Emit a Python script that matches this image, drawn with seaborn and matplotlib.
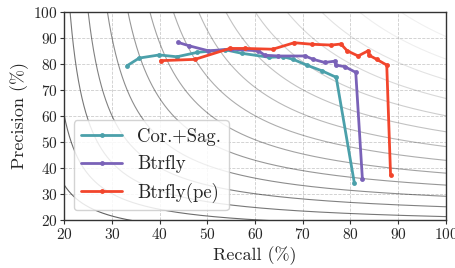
import numpy as np
import pandas as pd
import matplotlib
matplotlib.use("Agg")
import matplotlib.pyplot as plt
import seaborn as sns

# ---- data ----
cor_recall = [33.2, 35.7, 39.9, 43.6, 47.9, 53.7, 57.3, 63.0, 65.9, 68.0, 70.8, 74.0, 77.0, 80.8]
cor_prec   = [79.3, 82.2, 83.4, 82.7, 84.4, 85.4, 84.0, 82.5, 82.7, 81.7, 79.5, 77.3, 74.8, 34.2]

bt_recall = [43.9, 46.2, 50.2, 55.0, 60.7, 62.0, 64.9, 70.5, 72.2, 74.6, 76.7, 76.9, 78.8, 81.1, 82.5]
bt_prec   = [88.2, 86.9, 85.0, 85.6, 85.0, 83.3, 83.0, 83.0, 81.7, 80.5, 81.0, 79.5, 78.9, 76.7, 35.5]

pe_recall = [40.2, 47.4, 54.7, 57.9, 63.7, 68.2, 72.0, 76.0, 78.0, 79.3, 81.6, 83.7, 83.9, 85.5, 87.6, 88.4]
pe_prec   = [81.2, 81.7, 85.9, 85.9, 85.6, 88.1, 87.5, 87.2, 87.6, 85.0, 83.0, 85.0, 83.3, 81.7, 79.5, 37.2]

series_names = ["Cor.+Sag.", "Btrfly", "Btrfly(pe)"]
f_levels = [0.25, 0.30, 0.35, 0.40, 0.45, 0.50, 0.55, 0.60, 0.65, 0.70, 0.75, 0.80, 0.85, 0.90, 0.95]
ticks = [20, 30, 40, 50, 60, 70, 80, 90, 100]

colors = ["#4ba0aa", "#7a62b8", "#f2452c"]

sns.set_style("ticks")
plt.rcParams["font.family"] = ["cmr10", "DejaVu Serif"]
plt.rcParams["mathtext.fontset"] = "cm"
plt.rcParams["axes.unicode_minus"] = False
plt.rcParams["axes.formatter.use_mathtext"] = True

fig = plt.figure(figsize=(4.55, 2.68), dpi=100)
ax = fig.add_axes([0.1413, 0.180, 0.8387, 0.776])

# iso-F1 curves
r = np.linspace(0.0, 1.0, 2000)
for f in f_levels:
    with np.errstate(divide="ignore", invalid="ignore"):
        p = f * r / (2 * r - f)
    m = (p > 0) & (p <= 1.05) & (r > f / 2)
    a = max(0.06, 0.62 - (f - 0.25) * 0.85)
    ax.plot(r[m] * 100, p[m] * 100, color="black", alpha=a, lw=0.8, zorder=1)

df = pd.concat([
    pd.DataFrame({"Recall": cor_recall, "Precision": cor_prec, "Method": series_names[0]}),
    pd.DataFrame({"Recall": bt_recall, "Precision": bt_prec, "Method": series_names[1]}),
    pd.DataFrame({"Recall": pe_recall, "Precision": pe_prec, "Method": series_names[2]}),
], ignore_index=True)

for name, c in zip(series_names, colors):
    sub = df[df["Method"] == name]
    sns.lineplot(data=sub, x="Recall", y="Precision", sort=False, ax=ax,
                 color=c, lw=2, marker="o", markersize=3.5, markeredgewidth=0,
                 label=name, zorder=3)

ax.set_xlim(20, 100)
ax.set_ylim(20, 100)
ax.set_xticks(ticks)
ax.set_yticks(ticks)
ax.grid(True, ls="--", lw=0.6, color="#cccccc", zorder=0)
ax.set_axisbelow(True)
for s in ax.spines.values():
    s.set_color("#333333")
    s.set_linewidth(1.0)
ax.tick_params(labelsize=11, length=3, width=0.8, color="#333333", pad=2)
ax.set_xlabel("Recall (%)", fontsize=13, labelpad=3)
ax.set_ylabel("Precision (%)", fontsize=13, labelpad=3)

leg = ax.legend(loc="lower left", fontsize=13.5, frameon=True, fancybox=True,
                framealpha=0.85, edgecolor="#cccccc", borderaxespad=0.5,
                handlelength=2.2, labelspacing=0.5)

fig.savefig("out.png", dpi=100)
